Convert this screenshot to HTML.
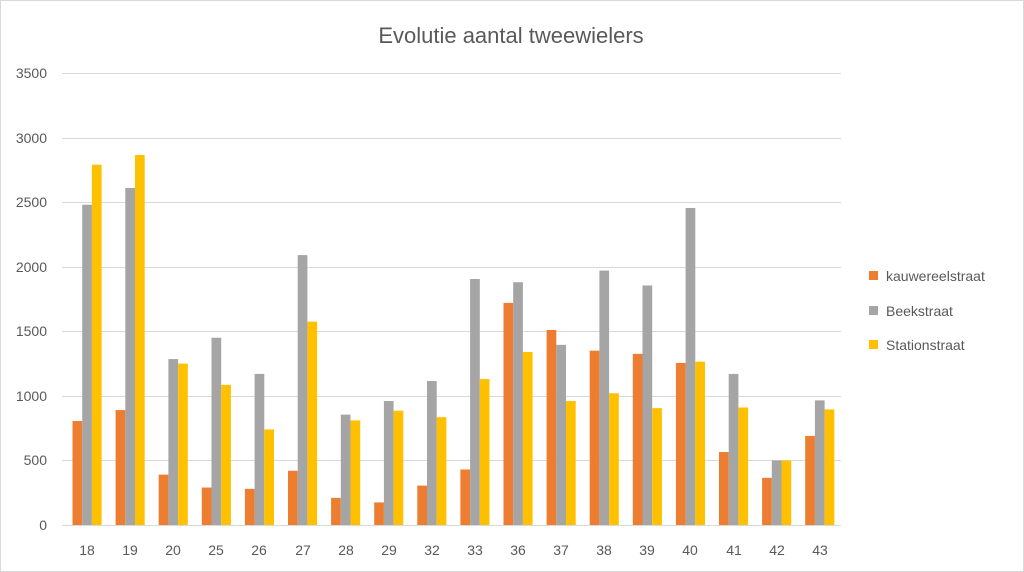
<!DOCTYPE html>
<html><head><meta charset="utf-8"><style>
html,body{margin:0;padding:0;background:#fff}
svg{display:block}
text{font-family:"Liberation Sans",sans-serif;fill:#595959}
</style></head><body>
<svg id="s" width="1024" height="572" viewBox="0 0 1024 572" xmlns="http://www.w3.org/2000/svg">
<rect x="0.5" y="0.5" width="1023" height="571" fill="#fff" stroke="#D9D9D9"/>
<text x="511" y="43" font-size="22" text-anchor="middle">Evolutie aantal tweewielers</text>
<g stroke="#D9D9D9" stroke-width="1">
<line x1="62" x2="841" y1="73.5" y2="73.5"/>
<line x1="62" x2="841" y1="138.5" y2="138.5"/>
<line x1="62" x2="841" y1="202.5" y2="202.5"/>
<line x1="62" x2="841" y1="267.5" y2="267.5"/>
<line x1="62" x2="841" y1="331.5" y2="331.5"/>
<line x1="62" x2="841" y1="396.5" y2="396.5"/>
<line x1="62" x2="841" y1="460.5" y2="460.5"/>
</g>
<g font-size="14" text-anchor="end">
<text x="47" y="78">3500</text>
<text x="47" y="143">3000</text>
<text x="47" y="207">2500</text>
<text x="47" y="272">2000</text>
<text x="47" y="336">1500</text>
<text x="47" y="401">1000</text>
<text x="47" y="465">500</text>
<text x="47" y="530">0</text>
</g>
<g id="bars"></g>
<line x1="62" x2="841" y1="525.5" y2="525.5" stroke="#D9D9D9"/>
<g font-size="14" text-anchor="middle">
<text x="87" y="555">18</text><text x="130" y="555">19</text><text x="173" y="555">20</text>
<text x="216" y="555">25</text><text x="259" y="555">26</text><text x="303" y="555">27</text>
<text x="346" y="555">28</text><text x="389" y="555">29</text><text x="432" y="555">32</text>
<text x="475" y="555">33</text><text x="518" y="555">36</text><text x="561" y="555">37</text>
<text x="604" y="555">38</text><text x="647" y="555">39</text><text x="690" y="555">40</text>
<text x="734" y="555">41</text><text x="777" y="555">42</text><text x="820" y="555">43</text>
</g>
<rect x="869" y="271" width="9" height="9" fill="#ED7D31"/>
<text x="886" y="281" font-size="14">kauwereelstraat</text>
<rect x="869" y="306" width="9" height="9" fill="#A5A5A5"/>
<text x="886" y="316" font-size="14">Beekstraat</text>
<rect x="869" y="340" width="9" height="9" fill="#FFC000"/>
<text x="886" y="350" font-size="14">Stationstraat</text>
</svg>
<script>
var d=[[805,2480,2790],[890,2610,2865],[390,1285,1250],[290,1450,1085],[280,1170,740],[420,2090,1575],[210,855,810],[175,960,885],[305,1115,835],[430,1905,1130],[1720,1880,1340],[1510,1395,960],[1350,1970,1020],[1325,1855,905],[1255,2455,1265],[565,1170,910],[365,500,500],[690,965,895]];
var c=["#ED7D31","#A5A5A5","#FFC000"],g=document.getElementById("bars"),ns="http://www.w3.org/2000/svg";
d.forEach(function(r,i){var cx=87+i*43.1;r.forEach(function(v,j){var h=v*0.12914;var e=document.createElementNS(ns,"rect");e.setAttribute("x",cx-14.5+j*9.7);e.setAttribute("y",525-h);e.setAttribute("width",9.7);e.setAttribute("height",h);e.setAttribute("fill",c[j]);g.appendChild(e);});});
</script>
</body></html>
